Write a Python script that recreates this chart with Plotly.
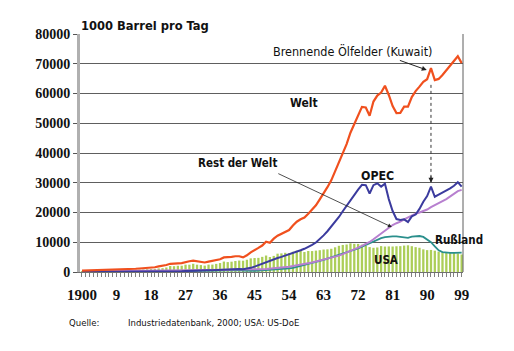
import plotly.graph_objects as go

years = list(range(1900, 2000))

welt = [450, 480, 520, 560, 600, 620, 640, 720, 780, 820,
        880, 920, 960, 1050, 1100, 1180, 1250, 1380, 1450, 1600,
        1900, 2050, 2350, 2750, 2700, 2900, 3000, 3400, 3600, 3850,
        3600, 3400, 3200, 3500, 3700, 3900, 4300, 4900, 4900, 5100,
        5300, 5300, 4900, 5600, 6600, 7500, 8100, 8900, 10200, 9800,
        11200, 12200, 12900, 13600, 14100, 15600, 16900, 17700, 18300, 19600,
        21000, 22400, 24400, 26300, 28500, 30800, 33800, 37000, 40000, 43000,
        46800, 49800, 52200, 55500, 55300, 52500, 57300, 59300, 60300, 62600,
        59500, 55800, 53400, 53500, 55600, 55600, 58800, 60800, 62300, 63900,
        64800, 68500, 64500, 64900, 66200, 67800, 69400, 71200, 72500, 70200]

opec = [20, 20, 25, 30, 35, 30, 30, 30, 30, 30,
        35, 35, 40, 45, 50, 50, 55, 60, 70, 80,
        90, 100, 110, 130, 160, 200, 250, 320, 400, 470,
        520, 500, 520, 560, 620, 700, 760, 850, 900, 950,
        980, 1000, 950, 1050, 1400, 1800, 2300, 2800, 3400, 3800,
        4300, 4700, 5100, 5500, 6000, 6500, 6900, 7300, 7800, 8400,
        9100, 9900, 11000, 12300, 13700, 15200, 16800, 18500, 20400, 22300,
        24300, 26200, 27700, 29300, 29200, 26400, 29200, 29800, 28700, 29700,
        24500, 20500, 17800, 17500, 17700, 16800, 18700, 19300, 21200, 23600,
        25500, 28700, 25300, 26000, 26700, 27300, 28100, 29000, 30200, 28700]

rest_der_welt = [150, 160, 170, 180, 190, 200, 210, 230, 250, 260,
                 280, 290, 300, 320, 330, 340, 350, 360, 370, 390,
                 420, 440, 460, 480, 500, 520, 540, 560, 580, 600,
                 620, 640, 650, 660, 680, 700, 720, 750, 780, 800,
                 800, 780, 720, 740, 780, 800, 850, 920, 1000, 1100,
                 1200, 1350, 1500, 1650, 1800, 2000, 2200, 2400, 2650, 2900,
                 3200, 3500, 3800, 4100, 4400, 4700, 5100, 5500, 6000, 6500,
                 7100, 7600, 8200, 8800, 9400, 10100, 11000, 12000, 13000, 14000,
                 15000, 15800, 16400, 16900, 17700, 18400, 19100, 19600, 20000, 20400,
                 21000, 21800, 22400, 23100, 23800, 24500, 25500, 26500, 27200, 27600]

russland = [200, 220, 210, 200, 200, 150, 160, 170, 170, 180,
            190, 180, 180, 180, 180, 190, 200, 180, 80, 90,
            80, 80, 100, 110, 120, 140, 170, 210, 240, 280,
            370, 450, 430, 430, 490, 510, 550, 560, 570, 590,
            600, 650, 450, 360, 370, 390, 450, 520, 600, 670,
            750, 850, 950, 1050, 1200, 1400, 1700, 2000, 2300, 2600,
            2950, 3300, 3700, 4100, 4500, 4850, 5300, 5750, 6200, 6550,
            7000, 7500, 7900, 8500, 9100, 9700, 10300, 10900, 11400, 11700,
            11900, 12000, 12000, 11900, 11800, 11500, 11900, 12100, 12100, 11800,
            11000, 10000, 8600, 7300, 6700, 6500, 6400, 6400, 6500, 6500]

usa = [174, 190, 244, 275, 320, 369, 347, 455, 489, 502,
       574, 603, 609, 681, 729, 771, 826, 919, 975, 1034,
       1214, 1299, 1526, 2007, 1951, 2094, 2111, 2469, 2463, 2760,
       2460, 2332, 2145, 2484, 2488, 2730, 3004, 3505, 3328, 3464,
       3707, 3842, 3798, 4125, 4584, 4695, 4751, 5088, 5535, 5046,
       5407, 6158, 6256, 6458, 6342, 6807, 7151, 7170, 6710, 7054,
       7035, 7183, 7332, 7542, 7614, 7804, 8295, 8810, 9096, 9238,
       9637, 9463, 9441, 9208, 8774, 8375, 8132, 8245, 8707, 8552,
       8597, 8572, 8649, 8688, 8879, 8971, 8680, 8349, 8140, 7613,
       7355, 7417, 7171, 6847, 6662, 6560, 6465, 6452, 6252, 5881]

tick_years = [1900, 1909, 1918, 1927, 1936, 1945, 1954, 1963, 1972, 1981, 1990, 1999]
tick_labels = ["1900", "9", "18", "27", "36", "45", "54", "63", "72", "81", "90", "99"]

# ---- layout geometry (pixels) ----
W, H = 514, 351
L, R, T, B = 80, 463, 34, 272


def px(x):
    return (x - L) / (R - L)


def py(y):
    return (B - y) / (B - T)


NARROW = "Liberation Sans Narrow, Arial Narrow, DejaVu Sans Condensed, sans-serif"
SERIF = "Liberation Serif, Times New Roman, serif"

fig = go.Figure()
fig.add_bar(x=years, y=usa, width=0.6, marker=dict(color="#acce58", line=dict(width=0)),
            hoverinfo="skip")
fig.add_scatter(x=years, y=russland, mode="lines", line=dict(color="#2a8f8c", width=1.8))
fig.add_scatter(x=years, y=rest_der_welt, mode="lines", line=dict(color="#b77fcf", width=2))
fig.add_scatter(x=years, y=opec, mode="lines", line=dict(color="#3b3b9e", width=2))
fig.add_scatter(x=years, y=welt, mode="lines", line=dict(color="#f0501e", width=2.2))

ticktext = [tick_labels[tick_years.index(y)] if y in tick_years else "" for y in years]

fig.update_layout(
    width=W, height=H,
    margin=dict(l=L, r=W - R, t=T, b=H - B),
    paper_bgcolor="white", plot_bgcolor="white",
    showlegend=False, bargap=0.4,
    xaxis=dict(
        range=[1899.48, 1999.35], tickmode="array", tickvals=years, ticktext=ticktext,
        ticks="outside", ticklen=4, tickcolor="#808080", tickwidth=1,
        showgrid=False, showline=True, linecolor="#707070", linewidth=1, zeroline=False,
        tickfont=dict(family=SERIF, size=15, color="#111111", weight="bold"),
        ticklabelstandoff=5,
    ),
    yaxis=dict(
        range=[0, 80000], dtick=10000, tickformat="d",
        showgrid=True, gridcolor="#5e5e5e", gridwidth=1,
        showline=True, linecolor="#b0b0b0", linewidth=3, zeroline=False,
        ticks="outside", ticklen=4, tickcolor="#555555",
        tickfont=dict(family=SERIF, size=14, color="#111111", weight="bold"),
    ),
)

# right frame line
fig.add_shape(type="line", xref="paper", yref="y", x0=1, x1=1, y0=0, y1=80000,
              line=dict(color="#5e5e5e", width=1))

# dotted Kuwait line down to OPEC peak
kuwait_year = 1991
k_i = years.index(kuwait_year)
fig.add_shape(type="line", xref="x", yref="y", x0=kuwait_year, x1=kuwait_year,
              y0=welt[k_i] - 5600, y1=opec[k_i] + 1600,
              line=dict(color="#333333", width=1, dash="dot"))
fig.add_annotation(x=kuwait_year, y=opec[k_i] + 1300, xref="x", yref="y", text="",
                   showarrow=True, ax=0, ay=-8, arrowhead=2, arrowsize=1, arrowwidth=1,
                   arrowcolor="#222222")

# arrow to Kuwait peak
fig.add_annotation(x=1989.9, y=welt[k_i] - 600, xref="x", yref="y", axref="x", ayref="y",
                   ax=1982.5, ay=71300, text="", showarrow=True, arrowhead=2,
                   arrowsize=1, arrowwidth=1, arrowcolor="#222222")

# arrow Rest der Welt
fig.add_annotation(x=1980.8, y=15100, xref="x", yref="y", axref="x", ayref="y",
                   ax=1950.8, ay=33300, text="", showarrow=True, arrowhead=2,
                   arrowsize=1, arrowwidth=0.8, arrowcolor="#222222")

labels = [
    ("1000 Barrel pro Tag", 145, 26, 12.8, "bold"),
    ("Brennende Ölfelder (Kuwait)", 352, 51, 12.5, "normal"),
    ("Welt", 304, 103, 12, "bold"),
    ("Rest der Welt", 237, 163, 11.5, "bold"),
    ("OPEC", 377, 176, 12.3, "bold"),
    ("Rußland", 459, 240, 11.5, "bold"),
    ("USA", 386, 260, 11.5, "bold"),
]
for text, x, y, size, weight in labels:
    fig.add_annotation(x=px(x), y=py(y), xref="paper", yref="paper", text=text,
                       showarrow=False, xanchor="center", yanchor="middle",
                       font=dict(family=NARROW, size=size, color="#111111", weight=weight))

fig.add_annotation(x=px(67), y=py(322), xref="paper", yref="paper", text="Quelle:",
                   showarrow=False, xanchor="left", yanchor="middle",
                   font=dict(family=NARROW, size=9.5, color="#111111"))
fig.add_annotation(x=px(126), y=py(322), xref="paper", yref="paper",
                   text="Industriedatenbank, 2000; USA: US-DoE",
                   showarrow=False, xanchor="left", yanchor="middle",
                   font=dict(family=NARROW, size=9.5, color="#111111"))

fig.write_html("out.html")
